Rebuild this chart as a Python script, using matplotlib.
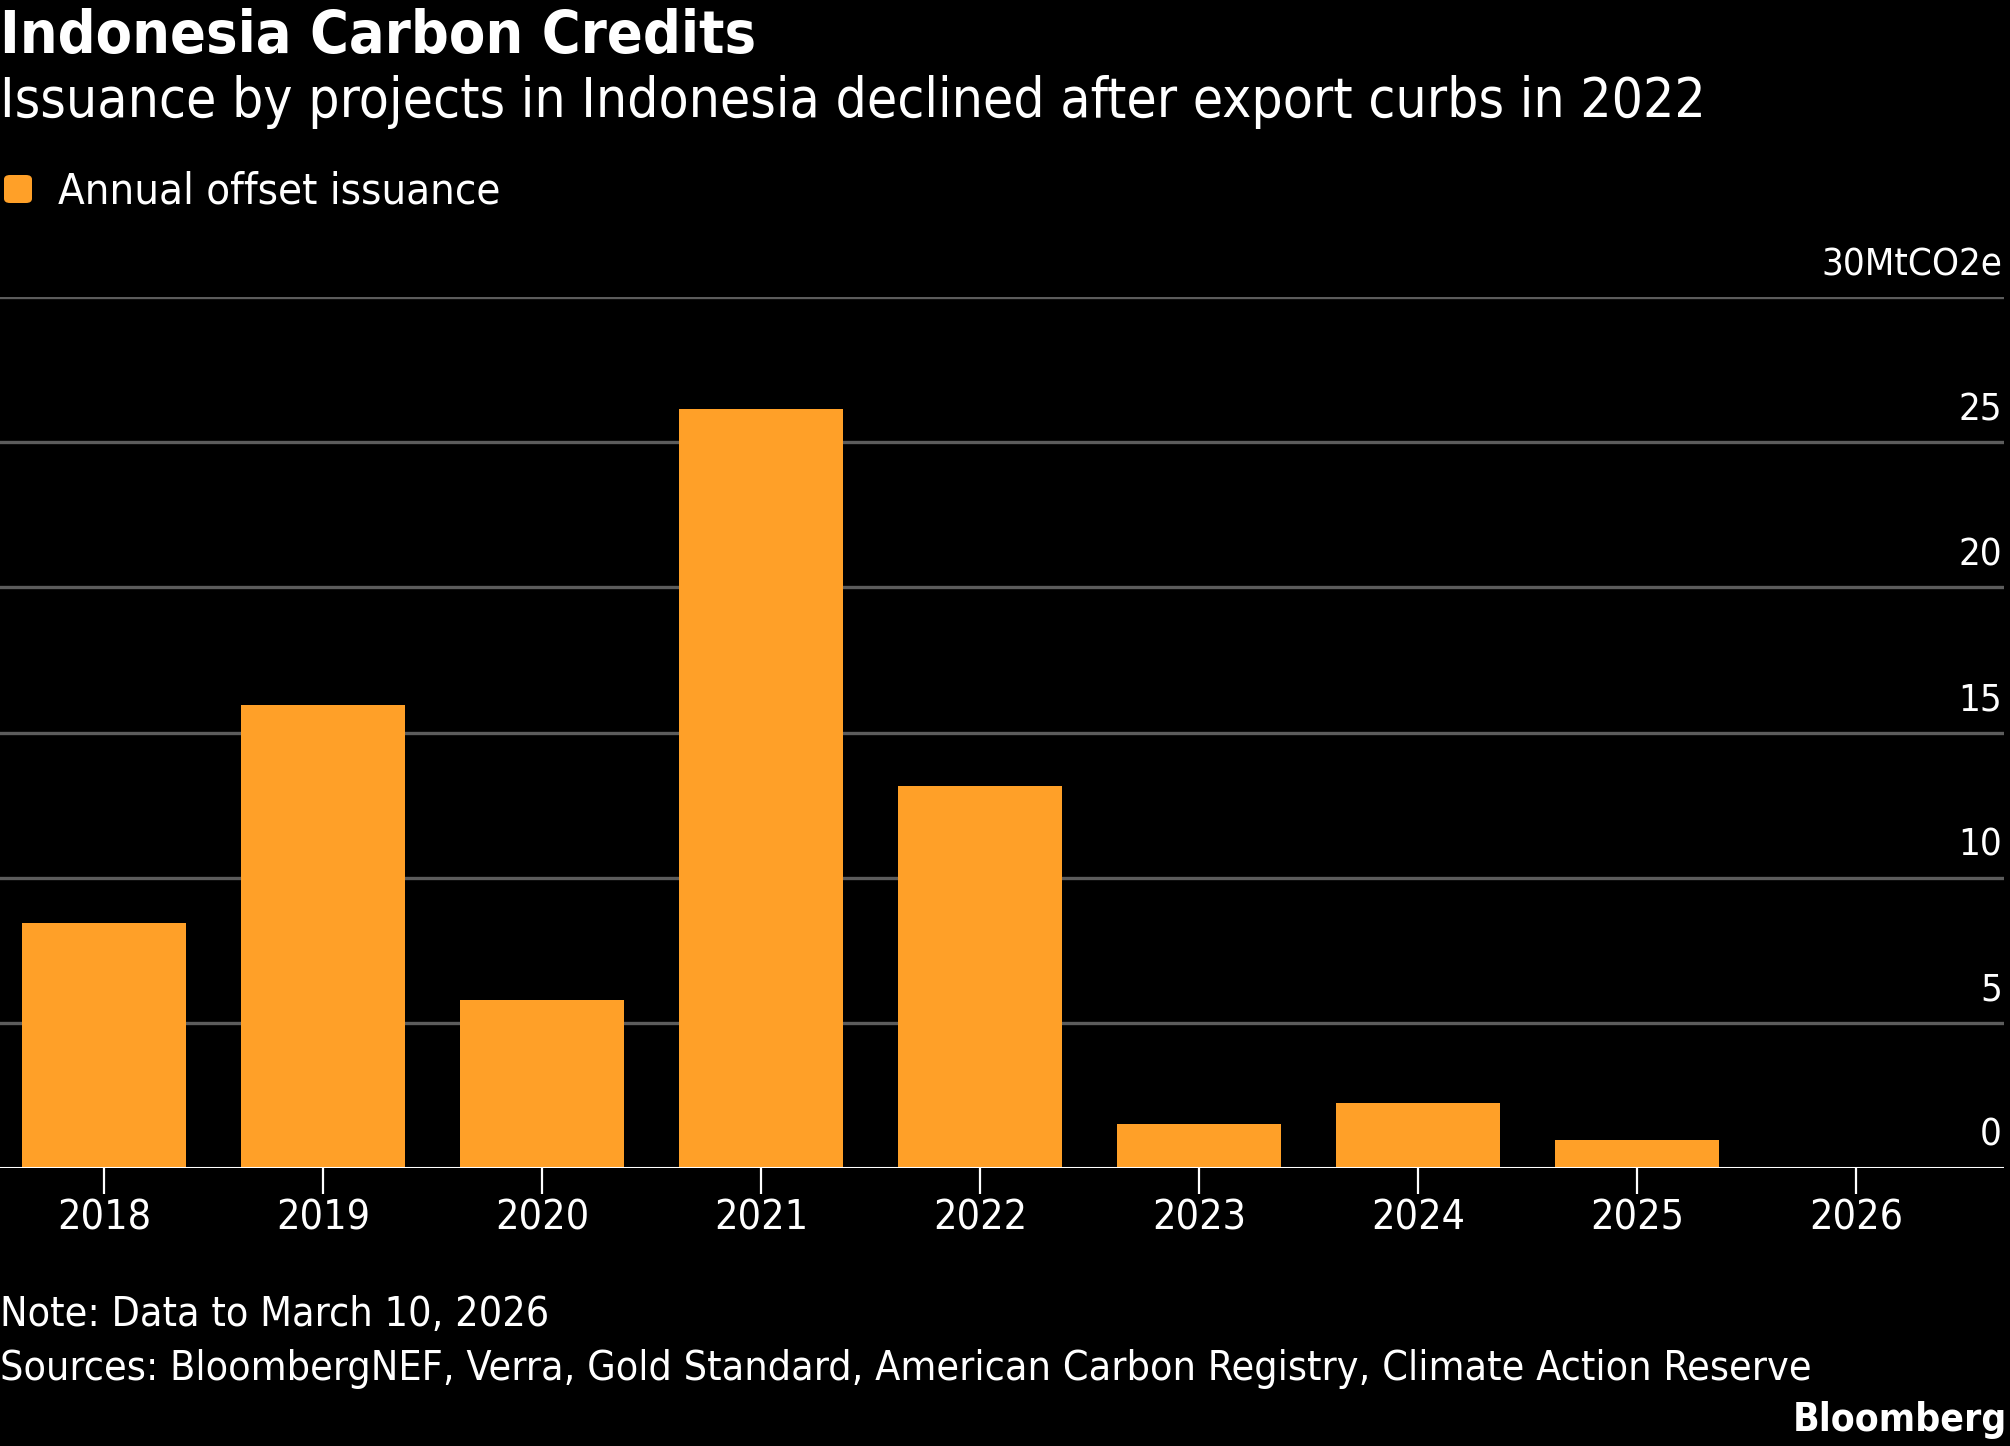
import matplotlib
matplotlib.use("Agg")
import matplotlib.pyplot as plt
import matplotlib.transforms as mtransforms
from matplotlib.patches import FancyBboxPatch

# data (MtCO2e)
years = ["2018", "2019", "2020", "2021", "2022", "2023", "2024", "2025", "2026"]
issuance = [8.45, 15.95, 5.8, 26.15, 13.15, 1.5, 2.25, 0.95, 0.05]
y_ticks = [0, 5, 10, 15, 20, 25, 30]
y_labels = ["0", "5", "10", "15", "20", "25", "30MtCO2e"]

title = "Indonesia Carbon Credits"
subtitle = "Issuance by projects in Indonesia declined after export curbs in 2022"
legend_label = "Annual offset issuance"
note = "Note: Data to March 10, 2026"
sources = "Sources: BloombergNEF, Verra, Gold Standard, American Carbon Registry, Climate Action Reserve"

BG = "#000000"
ORANGE = "#FFA028"
GRID = "#5c5c5c"
W, H = 2010, 1446

plt.rcParams["font.family"] = ["DejaVu Sans"]
plt.rcParams["font.stretch"] = "condensed"

fig = plt.figure(figsize=(W / 100, H / 100), dpi=100, facecolor=BG)
ax = fig.add_axes([0, 1 - 1168 / H, 2004 / W, (1168 - 297) / H])
ax.set_facecolor(BG)

x = list(range(len(years)))
ax.bar(x, issuance, width=0.75, color=ORANGE, zorder=2)

ax.set_xlim(-0.475, 8.676)
ax.set_ylim(0, 30)

for v in y_ticks[1:]:
    ax.axhline(v, color=GRID, lw=2.4, zorder=1)
ax.axhline(0, color="white", lw=2.2, zorder=3)

for s in ax.spines.values():
    s.set_visible(False)

ax.set_xticks(x)
ax.set_xticklabels(years)
ax.tick_params(axis="x", colors="white", labelsize=29.5, length=19, width=1.6, pad=3)
ax.set_yticks([])

# y labels sit right-aligned above each gridline
lab_tr = mtransforms.offset_copy(ax.get_yaxis_transform(), fig=fig, x=-2, y=22, units="dots")
for v, lbl in zip(y_ticks, y_labels):
    ax.text(1.0, v, lbl, transform=lab_tr, ha="right", va="baseline",
            color="white", fontsize=27.5)

# header
fig.text(0.0, 1 - 53 / H, title, color="white", fontsize=42.5, fontweight="bold", va="baseline")
fig.text(0.0, 1 - 117 / H, subtitle, color="white", fontsize=39.5, va="baseline")

# legend swatch + label
sw = FancyBboxPatch((4 / W, 1 - 203 / H), 28 / W, 28 / H,
                    boxstyle="round,pad=0,rounding_size=0.003",
                    transform=fig.transFigure, facecolor=ORANGE, edgecolor="none")
fig.patches.append(sw)
fig.text(58 / W, 1 - 203 / H, legend_label, color="white", fontsize=31.3, va="baseline")

# footer
fig.text(0.0, 1 - 1326 / H, note, color="white", fontsize=29.5, va="baseline")
fig.text(0.0, 1 - 1380 / H, sources, color="white", fontsize=29.5, va="baseline")
fig.text(2007 / W, 1 - 1431 / H, "Bloomberg", color="white", fontsize=28,
         fontweight="bold", ha="right", va="baseline")

fig.savefig("out.png", dpi=100, facecolor=BG)
